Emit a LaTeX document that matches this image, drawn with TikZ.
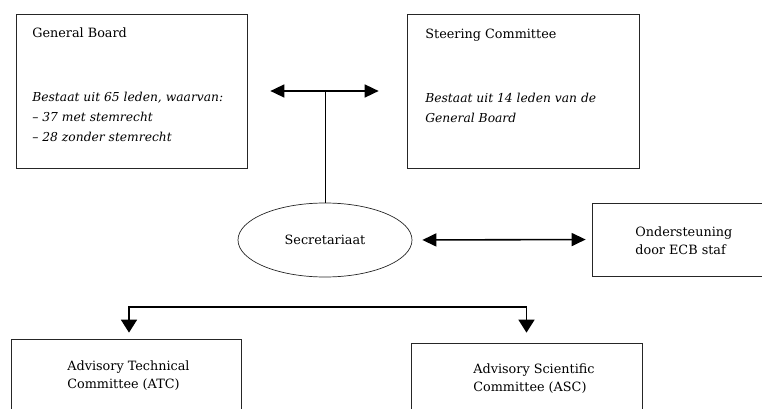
\documentclass[tikz,border=0pt]{standalone}
\usepackage{fontspec}
\setmainfont{DejaVu Serif}
\usetikzlibrary{arrows.meta,shapes.geometric}
\begin{document}
\begin{tikzpicture}[x=1pt, y=-1pt, line width=0.7pt,
  font=\fontsize{12.8}{20}\selectfont,
  box/.style={rectangle, draw=black!85, inner sep=0pt},
  tekst/.style={anchor=west, align=left, inner sep=0pt},
  dubbel/.style={{Triangle[length=14pt,width=13pt]}-{Triangle[length=14pt,width=13pt]}, line width=1.6pt},
  omlaag/.style={-{Triangle[length=13pt,width=16pt]}, line width=1.6pt}]
\clip (0,0) rectangle (762,409);
% Nodos
\node [box, minimum width=231pt, minimum height=154pt] (GB)  at (131.5,91) {};
\node [box, minimum width=232pt, minimum height=154pt] (SC)  at (523,91) {};
\node [ellipse, draw=black!85, minimum width=174pt, minimum height=74pt] (Sec) at (325,240) {Secretariaat};
\node [box, minimum width=208pt, minimum height=73pt] (ECB) at (696,239.5) {};
\node [box, minimum width=230pt, minimum height=120pt] (ATC) at (126,399) {};
\node [box, minimum width=231pt, minimum height=120pt] (ASC) at (526.5,403) {};
% Teksten
\node [tekst] (GBnaam) at (32,33) {General Board};
\node [tekst, font=\fontsize{12.3}{20}\selectfont\itshape] (GBinfo) at (32,117)
  {Bestaat uit 65 leden, waarvan:\\ -- 37 met stemrecht\\ -- 28 zonder stemrecht};
\node [tekst] (SCnaam) at (425,35) {Steering Committee};
\node [tekst, font=\fontsize{12.3}{20}\selectfont\itshape] (SCinfo) at (425,108)
  {Bestaat uit 14 leden van de\\ General Board};
\node [tekst, font=\fontsize{12.8}{18}\selectfont] (ECBnaam) at (635,241) {Ondersteuning\\ door ECB staf};
\node [tekst, font=\fontsize{12.8}{18}\selectfont] (ATCnaam) at (67,376) {Advisory Technical\\ Committee (ATC)};
\node [tekst, font=\fontsize{12.8}{18}\selectfont] (ASCnaam) at (473,379) {Advisory Scientific\\ Committee (ASC)};
% Pijlen
\draw [dubbel, shorten <=23pt, shorten >=28pt] (GB.east) -- (SC.west);
\draw (Sec.north) -- (Sec.north |- GB.east);
\draw [dubbel, shorten <=10pt, shorten >=6pt] (Sec.east) -- (ECB.west);
\coordinate (splits) at (325,307);
\draw [omlaag, shorten >=6pt] (splits) -| ([xshift=3pt]ATC.north);
\draw [omlaag, shorten >=10pt] (splits) -| (ASC.north);
\end{tikzpicture}
\end{document}
